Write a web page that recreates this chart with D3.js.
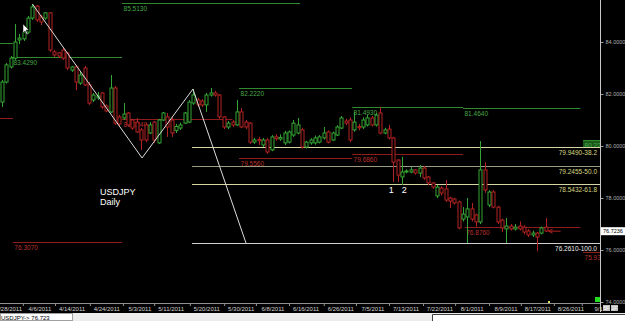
<!DOCTYPE html>
<html>
<head>
  <meta charset="utf-8"/>
  <title>USDJPY Daily</title>
  <style type="text/css">
    body { margin:0; padding:0; background-color:black; }
    text { font-family: "Liberation Sans", Arial, sans-serif; }
  </style>
  <script src="https://cdn.jsdelivr.net/npm/d3@7"></script>
</head>
<body>
<script type="text/javascript">

  var w = 625, h = 321;

  // DATA - daily bars (open, high, low, close)
  var opens  = [81.69,82.46,83.04,83.38,84.08,84.12,84.38,84.92,85.38,84.96,84.92,85.12,83.62,83.58,83.69,83.58,82.92,83.04,82.42,83.00,
                82.35,81.77,81.85,82.04,81.54,81.31,82.23,81.12,81.08,81.27,81.00,80.92,80.62,80.81,80.50,80.92,80.12,81.00,81.12,81.00,
                80.60,80.69,80.88,80.92,81.65,81.77,81.73,81.58,81.96,82.04,81.96,81.12,80.73,80.92,80.81,81.31,80.92,80.88,80.15,80.25,
                80.04,80.23,79.85,80.35,80.27,80.12,80.15,80.42,80.50,80.62,79.96,80.12,80.12,80.15,80.31,80.54,80.23,80.42,80.69,80.96,
                81.00,80.62,80.75,80.73,80.81,81.08,80.81,81.27,80.50,80.65,80.31,79.46,78.81,79.00,79.00,79.08,78.96,79.15,78.81,78.58,
                78.08,78.38,78.35,78.00,77.96,77.85,77.19,77.27,77.58,77.35,77.08,79.08,77.73,78.23,77.65,77.15,76.81,76.92,76.81,76.92,
                76.88,76.73,76.58,76.65,76.65,76.88];
  var highs  = [82.54,83.19,83.46,84.69,84.31,84.46,85.00,85.46,85.42,85.04,85.15,85.15,83.69,83.62,83.77,83.62,83.08,83.12,82.85,83.08,
                82.46,82.04,82.08,82.08,81.60,82.73,82.31,81.20,81.65,81.31,81.04,81.08,80.69,80.88,80.92,80.96,81.04,81.31,81.27,81.10,
                80.85,80.90,81.31,81.77,82.19,81.85,81.80,82.04,82.23,82.12,82.00,81.15,80.96,81.00,81.77,81.46,81.00,80.92,80.31,80.35,
                80.31,80.31,80.42,80.45,80.45,80.58,80.60,81.00,81.08,80.70,80.20,80.30,80.40,80.42,80.73,80.60,80.55,80.80,81.15,81.05,
                81.10,81.31,80.85,81.10,81.20,81.15,81.27,81.49,80.70,80.81,80.35,79.50,79.58,79.10,79.20,79.12,79.27,79.23,78.85,78.62,
                78.50,78.45,78.69,78.05,78.00,77.90,77.65,78.00,77.81,77.40,80.19,79.38,78.30,78.30,77.70,77.20,77.23,77.00,77.00,77.10,
                76.95,76.80,76.75,76.70,76.90,77.23];
  var lows   = [81.50,82.40,82.98,83.31,83.92,84.04,84.31,84.85,84.77,84.65,84.85,83.62,83.42,83.38,83.31,82.92,82.85,82.15,82.35,82.31,
                81.58,81.69,81.77,81.42,81.30,81.27,80.81,80.75,81.00,80.77,80.62,80.50,79.85,80.15,80.46,80.12,80.08,80.96,80.35,80.35,
                80.50,80.62,80.85,80.88,81.58,81.50,81.50,81.31,81.90,81.90,81.05,80.65,80.65,80.73,80.77,80.69,80.65,80.08,80.08,80.04,
                79.96,79.70,79.80,80.20,80.20,80.04,80.10,80.35,80.45,79.90,79.90,80.05,80.05,80.10,80.25,80.10,80.20,80.38,80.65,80.80,
                80.15,80.55,80.60,80.65,80.75,80.75,80.75,80.45,80.45,80.25,78.62,78.62,78.50,78.95,78.95,78.90,78.81,78.70,78.50,78.35,
                78.00,78.10,77.85,77.62,77.75,76.80,77.10,76.27,77.10,76.90,77.00,78.20,77.65,77.60,77.00,76.69,76.27,76.75,76.75,76.75,
                76.60,76.50,76.50,75.95,76.60,76.70];
  var closes = [82.46,83.12,83.38,84.00,84.15,84.38,84.92,85.35,84.85,84.77,85.12,83.69,83.50,83.46,83.38,83.00,83.04,82.46,82.73,82.35,
                81.65,81.96,81.92,81.50,81.35,82.23,80.88,80.85,81.23,80.81,80.69,80.54,80.23,80.23,80.81,80.23,81.00,81.27,80.73,80.50,
                80.75,80.81,81.27,81.69,81.96,81.58,81.58,81.96,82.04,81.96,81.12,80.73,80.88,80.81,81.31,80.73,80.73,80.15,80.23,80.20,
                80.23,79.77,80.35,80.28,80.33,80.50,80.54,80.88,80.81,79.96,80.15,80.23,80.31,80.35,80.50,80.15,80.50,80.73,81.08,80.88,
                80.23,80.92,80.70,81.00,81.08,80.81,81.19,80.50,80.62,80.31,79.38,78.88,79.00,79.04,79.08,78.96,79.15,78.77,78.58,78.42,
                78.42,78.19,77.92,77.88,77.81,76.85,77.38,77.58,77.19,77.08,79.08,78.31,78.23,77.65,77.08,76.85,76.92,76.81,76.88,76.81,
                76.69,76.58,76.65,76.50,76.85,76.73];

  // date tick labels and the bar they sit under
  var dateLabels = ["3/28/2011","4/6/2011","4/14/2011","4/24/2011","5/3/2011","5/11/2011","5/20/2011","5/30/2011","6/8/2011","6/16/2011",
                    "6/26/2011","7/5/2011","7/13/2011","7/22/2011","8/1/2011","8/9/2011","8/17/2011","8/26/2011","9/1"];
  var dateBars   = [1.6, 8.7, 16.1, 24.1, 31.7, 38.9, 47.1, 55, 62.3, 69.9, 77.9, 85.3, 92.9, 100.7, 108.1, 115.9, 123.2, 130.8, 137.2];

  var priceTicks = [74, 76, 78, 80, 82, 84];

  // horizontal level lines: value, first bar, last bar, kind
  var levelValues = [85.513, 83.429, 83.96, 81.08, 81.02, 82.222, 81.493, 81.464, 79.556, 79.686, 76.307, 76.876, 75.93, 80.22];
  var levelFrom   = [27.6, 2.3, -0.5, -0.5, 27.6, 54.5, 80.5, 106, 54.5, 80.5, 2.5, 106.4, 133.6, 133.6];
  var levelTo     = [68.5, 27.6, 2.5, 2.5, 53, 80.5, 106, 133, 80.5, 106, 27.6, 133, 137.6, 137.6];
  var levelKind   = ["up","up","up","dn","dn","up","up","up","dn","dn","dn","dn","dn","up"];
  var levelText   = ["85.5130","83.4290","","","81.0240","82.2220","81.4930","81.4640","79.5560","79.6860","76.3070","76.8760","75.93","80.22"];

  // fibonacci retracement lines
  var fibValues = [79.949, 79.2455, 78.5432, 76.261];
  var fibText   = ["79.9490-38.2","79.2455-50.0","78.5432-61.8","76.2610-100.0"];
  var fibFrom   = 43.7;

  // hand drawn swing line (bar, price)
  var swingBars   = [7, 32.2, 43.9, 56.1];
  var swingPrices = [85.46, 79.54, 82.19, 76.27];

  var lastPrice = 76.7236;

  // COLORS
  var upColor = "#35a535", dnColor = "#b32222",
      upLevel = "#2f8a2f", dnLevel = "#8f1c1c",
      upLabel = "#45a845", dnLabel = "#b83030",
      fibLine = ["#d6d6a4","#9c9c80","#d6d6a4","#cfcfcf"],
      fibLabel = ["#d8d880","#d8d880","#d8d880","#e8e8e8"];

  var bars = opens.map(function(o, i) {
    return {i: i, o: o, h: highs[i], l: lows[i], c: closes[i]};
  });

  var svg = d3.select("body").append("svg")
              .attr("width", w)
              .attr("height", h);

  svg.append("rect").attr("width", w).attr("height", h).style("fill", "black");

  var x = d3.scaleLinear().domain([-0.46, 137.5]).range([0, 600]);
  var y = d3.scaleLinear().domain([74, 84]).range([302, 42]);

  var plot = svg.append("g").attr("id", "plot");

  // level lines
  levelValues.forEach(function(v, k) {
    var up = levelKind[k] == "up";
    plot.append("line")
        .attr("x1", x(levelFrom[k])).attr("x2", x(levelTo[k]))
        .attr("y1", Math.round(y(v)) + 0.5).attr("y2", Math.round(y(v)) + 0.5)
        .style("stroke", up ? upLevel : dnLevel)
        .style("stroke-width", 1);
    if (levelText[k] == "80.22") {
      plot.append("rect")
          .attr("x", x(levelFrom[k])).attr("y", Math.round(y(v)) + 1)
          .attr("width", x(levelTo[k]) - x(levelFrom[k])).attr("height", 7)
          .style("fill", "#1c5a1c");
    }
    if (levelText[k]) {
      plot.append("text")
          .attr("x", x(levelFrom[k]) + 1.5)
          .attr("y", Math.round(y(v)) + 7.5)
          .text(levelText[k])
          .style("font-size", "6.5px")
          .style("fill", up ? upLabel : dnLabel);
    }
  });

  // fib lines
  fibValues.forEach(function(v, k) {
    plot.append("line")
        .attr("x1", x(fibFrom)).attr("x2", 600)
        .attr("y1", Math.round(y(v)) + 0.5).attr("y2", Math.round(y(v)) + 0.5)
        .style("stroke", fibLine[k]);
    plot.append("text")
        .attr("x", 597)
        .attr("y", Math.round(y(v)) + 7.5)
        .attr("text-anchor", "end")
        .text(fibText[k])
        .style("font-size", "6.5px")
        .style("fill", fibLabel[k]);
  });

  // candles
  var candle = plot.selectAll(".candle").data(bars).enter().append("g")
                   .attr("class", "candle")
                   .style("stroke", function(d) { return d.c >= d.o ? upColor : dnColor; });

  candle.append("line")
        .attr("x1", function(d) { return Math.round(x(d.i)) + 0.5; })
        .attr("x2", function(d) { return Math.round(x(d.i)) + 0.5; })
        .attr("y1", function(d) { return y(d.h); })
        .attr("y2", function(d) { return y(d.l); });

  candle.append("rect")
        .attr("x", function(d) { return Math.round(x(d.i)) - 1; })
        .attr("width", 3)
        .attr("y", function(d) { return y(Math.max(d.o, d.c)); })
        .attr("height", function(d) { return Math.max(1, Math.abs(y(d.o) - y(d.c))); })
        .style("fill", "black");

  // swing line
  var swing = d3.line().x(function(d) { return x(d[0]); }).y(function(d) { return y(d[1]); });
  plot.append("path")
      .datum(swingBars.map(function(b, k) { return [b, swingPrices[k]]; }))
      .attr("d", swing)
      .style("fill", "none")
      .style("stroke", "#dcdcdc")
      .style("stroke-width", 1);

  // last price arrow
  var lastX = x(bars.length - 1);
  plot.append("path")
      .attr("d", "M" + (lastX + 3) + "," + y(lastPrice) + "h12 M" + (lastX + 3) + "," + y(lastPrice) +
                 "l4,-2 M" + (lastX + 3) + "," + y(lastPrice) + "l4,2")
      .style("stroke", dnColor).style("fill", "none");

  // annotations
  svg.append("text").attr("x", 100).attr("y", 195).text("USDJPY")
     .style("font-size", "9px").style("fill", "white");
  svg.append("text").attr("x", 100).attr("y", 205).text("Daily")
     .style("font-size", "9px").style("fill", "white");
  svg.append("text").attr("x", x(89.5)).attr("y", 193).text("1")
     .style("font-size", "9px").style("fill", "white").attr("text-anchor", "middle");
  svg.append("text").attr("x", x(92.5)).attr("y", 193).text("2")
     .style("font-size", "9px").style("fill", "white").attr("text-anchor", "middle");

  // mouse pointer
  svg.append("path")
     .attr("d", "M23,24 L23,33 L25,31 L27,35 L28,34 L26,30 L29,30 Z")
     .style("fill", "white").style("stroke", "black").style("stroke-width", 0.5);

  // right price axis
  var yAxis = d3.axisRight(y).tickValues(priceTicks).tickFormat(d3.format(".4f")).tickSize(3).tickPadding(2);
  var yAxisG = svg.append("g").attr("transform", "translate(600.5,0)").call(yAxis);
  yAxisG.select(".domain").remove();
  yAxisG.selectAll("line").style("stroke", "#a0a0a0");
  yAxisG.selectAll("text").style("fill", "#b0b0b0").style("font-size", "5.5px")
        .style("font-family", "Liberation Sans, Arial, sans-serif");
  svg.append("line").attr("x1", 600.5).attr("x2", 600.5).attr("y1", 0).attr("y2", 312)
     .style("stroke", "#c8c8c8");

  // last price tag
  svg.append("rect").attr("x", 601).attr("y", y(lastPrice) - 4).attr("width", 24).attr("height", 8)
     .style("fill", "white");
  svg.append("text").attr("x", 603).attr("y", y(lastPrice) + 2).text(lastPrice.toFixed(4))
     .style("font-size", "5.5px").style("fill", "black");

  // bottom date axis
  svg.append("line").attr("x1", 0).attr("x2", 600).attr("y1", 303.5).attr("y2", 303.5)
     .style("stroke", "#909090");
  var dateG = svg.append("g");
  dateLabels.forEach(function(t, k) {
    dateG.append("text").attr("x", x(dateBars[k])).attr("y", 310.5)
         .attr("text-anchor", "middle").text(t)
         .style("font-size", "6px").style("fill", "#d0d0d0");
    dateG.append("line").attr("x1", x(dateBars[k]) - 16.5).attr("x2", x(dateBars[k]) - 16.5)
         .attr("y1", 303).attr("y2", 306).style("stroke", "#909090");
  });

  // small markers at the bottom right
  svg.append("rect").attr("x", 595).attr("y", 297).attr("width", 5).attr("height", 5).style("fill", "#22dd22");
  svg.append("rect").attr("x", 548).attr("y", 301).attr("width", 2).attr("height", 2).style("fill", "#e0e060");
  ["5F", "1F"].forEach(function(t, k) {
    svg.append("rect").attr("x", 603 + k * 8).attr("y", 305).attr("width", 7).attr("height", 6)
       .style("fill", "#bdbdbd");
    svg.append("text").attr("x", 606.5 + k * 8).attr("y", 310).attr("text-anchor", "middle").text(t)
       .style("font-size", "5px").style("fill", "white");
  });

  // status bar
  svg.append("rect").attr("x", 0).attr("y", 313).attr("width", w).attr("height", 8).style("fill", "#ececec");
  svg.append("rect").attr("x", 0.5).attr("y", 313.5).attr("width", 72).attr("height", 7)
     .style("fill", "white").style("stroke", "#a0a0a0");
  svg.append("text").attr("x", 1).attr("y", 319.5).text("USDJPY->  76.723")
     .style("font-size", "6px").style("fill", "black");
  svg.append("path").attr("d", "M432.5,321 V314.5 H625").style("stroke", "#404040").style("fill", "none");
  svg.append("rect").attr("x", 433).attr("y", 315).attr("width", 192).attr("height", 6).style("fill", "white");

</script>
</body>
</html>
